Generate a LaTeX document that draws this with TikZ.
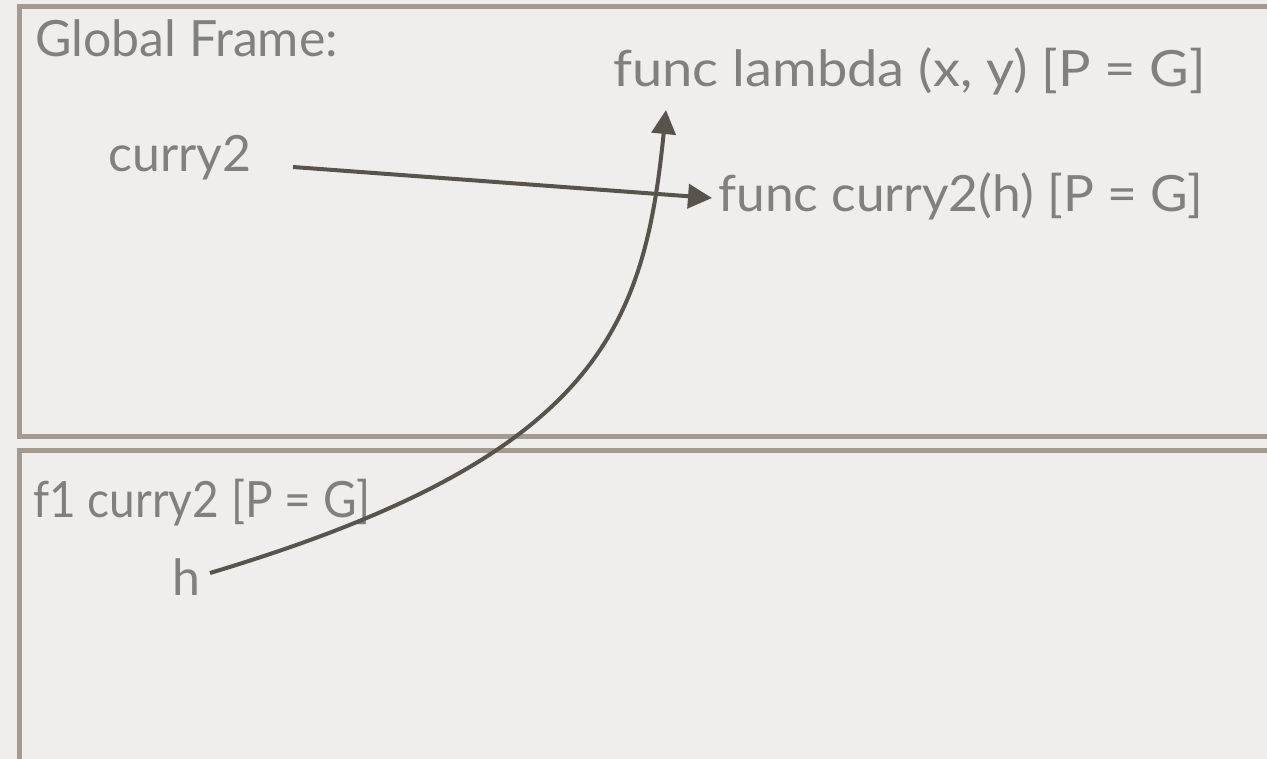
\documentclass[tikz,border=0pt]{standalone}
\usepackage{fontspec}
\setmainfont{Lato}
\usetikzlibrary{arrows.meta}
\definecolor{bgc}{RGB}{239,238,236}
\definecolor{framec}{RGB}{163,154,144}
\definecolor{txtc}{RGB}{128,128,128}
\definecolor{arrc}{RGB}{88,83,75}
\begin{document}
\begin{tikzpicture}[x=1pt,y=-1pt,
  lbl/.style={text=txtc, font=\fontsize{50}{60}\selectfont, inner sep=0pt, anchor=base west},
  framebox/.style={draw=framec, line width=5pt},
  ptr/.style={draw=arrc, line width=4pt, -{Triangle[length=24pt,width=24pt]}}]
\useasboundingbox (0,0) rectangle (1267,759);
\clip (0,0) rectangle (1267,759);
\fill[bgc] (0,0) rectangle (1267,759);
% frames
\draw[framebox] (19,7) rectangle (1290,436);
\draw[framebox] (19,450) rectangle (1290,790);
% texts
\node[lbl] (gf) at (35,57) {Global Frame:};
\node[lbl] (lam) at (613,87) {\scalebox{1.085}[1]{func lambda (x, y) [P = G]}};
\node[lbl] (c2) at (108,172) {curry2};
\node[lbl] (fc2) at (718,212) {\scalebox{1.03}[1]{func curry2(h) [P = G]}};
\node[lbl] (f1) at (33,517) {\scalebox{0.92}[1]{f1 curry2 [P = G]}};
\node[lbl] (h) at (172,595) {h};
% connector end points
\coordinate (c2s) at (293,167);
\coordinate (fc2t) at (712,198);
\coordinate (hs) at (210,573);
\coordinate (lamt) at (666,110);
% connectors
\draw[ptr] (c2s) -- (fc2t);
\draw[ptr] (hs) .. controls (597,457) and (644,329) .. (lamt);
\end{tikzpicture}
\end{document}
